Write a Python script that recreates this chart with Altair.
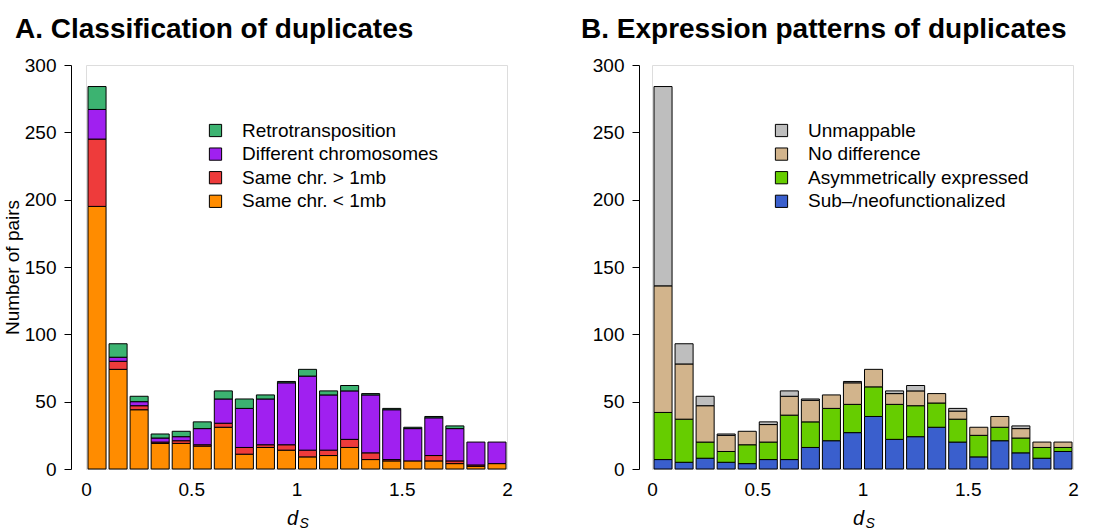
import altair as alt
import pandas as pd

# bins of d_S (width 0.1 from 0 to 2)
bin_lo = [round(i * 0.1, 1) for i in range(20)]
bin_hi = [round((i + 1) * 0.1, 1) for i in range(20)]

# Panel A: classification of duplicates (counts per bin)
cats_a = ["Retrotransposition", "Different chromosomes", "Same chr. > 1mb", "Same chr. < 1mb"]
colors_a = ["#3CB371", "#A020F0", "#EE3B3B", "#FF8C00"]
same_lt_1mb = [195, 74, 44, 19, 19, 17, 31, 11, 16, 14, 9, 10, 16, 7, 6, 6, 6, 4, 2, 4]
same_gt_1mb = [50, 6, 3, 1, 2, 1, 3, 5, 2, 4, 5, 4, 6, 5, 1, 0, 4, 2, 1, 0]
diff_chr = [22, 3, 3, 3, 3, 12, 18, 29, 34, 46, 55, 41, 36, 43, 37, 24, 28, 24, 17, 16]
retro = [17, 10, 4, 3, 4, 5, 6, 7, 3, 1, 5, 3, 4, 1, 1, 1, 1, 2, 0, 0]

# Panel B: expression patterns of duplicates
cats_b = ["Unmappable", "No difference", "Asymmetrically expressed", "Sub\u2013/neofunctionalized"]
colors_b = ["#BEBEBE", "#D2B48C", "#66CD00", "#3A5FCD"]
subneo = [7, 5, 8, 5, 4, 7, 7, 16, 21, 27, 39, 22, 24, 31, 20, 9, 21, 12, 8, 13]
asym = [35, 32, 12, 8, 14, 13, 33, 19, 24, 21, 22, 26, 23, 18, 17, 16, 10, 11, 8, 3]
nodiff = [94, 41, 27, 12, 10, 13, 14, 16, 10, 16, 13, 8, 11, 7, 6, 6, 8, 7, 4, 4]
unmap = [148, 15, 7, 1, 0, 2, 4, 1, 0, 1, 0, 2, 4, 0, 2, 0, 0, 2, 0, 0]

titles = ["A. Classification of duplicates", "B. Expression patterns of duplicates"]
y_ticks = [0, 50, 100, 150, 200, 250, 300]
x_ticks = [0, 0.5, 1, 1.5, 2]
x_title = ["d", "S"]

FONT = "Liberation Sans"
W, H = 421, 404


def long_df(series_bottom_to_top, cats_bottom_to_top):
    rows = []
    for rank, (vals, cat) in enumerate(zip(series_bottom_to_top, cats_bottom_to_top)):
        for lo, hi, v in zip(bin_lo, bin_hi, vals):
            if v > 0:
                rows.append({"lo": lo, "hi": hi, "count": v, "cat": cat, "rank": rank})
    return pd.DataFrame(rows)


def panel(df, domain, colors, title, ytitle, yoffset):
    bars = alt.Chart(df).mark_bar(
        stroke="black", strokeWidth=1, opacity=1, binSpacing=3
    ).encode(
        x=alt.X("lo:Q", bin="binned", scale=alt.Scale(domain=[0, 2], nice=False, zero=False),
                axis=alt.Axis(values=x_ticks, format="~g", title=None, domain=False,
                              ticks=False, grid=False, labelPadding=11, labelFlush=False,
                              labelFontSize=19, labelColor="black", labelFont=FONT)),
        x2="hi:Q",
        y=alt.Y("count:Q", stack="zero", scale=alt.Scale(domain=[0, 300], nice=False),
                axis=alt.Axis(values=y_ticks, format="d", title=ytitle, grid=False,
                              offset=yoffset, tickSize=7, labelPadding=8,
                              domainColor="black", tickColor="black",
                              labelFontSize=19, labelColor="black", labelFont=FONT,
                              titleFontSize=19, titleFont=FONT, titleFontWeight="normal",
                              titleColor="black", titlePadding=2)),
        color=alt.Color("cat:N", scale=alt.Scale(domain=domain, range=colors),
                        legend=alt.Legend(title=None, orient="none", legendX=120, legendY=56,
                                          symbolType="square", symbolSize=150,
                                          symbolStrokeColor="black", symbolStrokeWidth=1,
                                          symbolOpacity=1, labelFontSize=19, labelFont=FONT,
                                          labelColor="black", labelOffset=17, rowPadding=3.6,
                                          labelLimit=0)),
        order=alt.Order("rank:Q", sort="ascending"),
    )
    title_txt = alt.Chart(pd.DataFrame({"t": [title]})).mark_text(
        font=FONT, fontSize=28, fontWeight="bold", align="left", baseline="alphabetic"
    ).encode(x=alt.value(-71), y=alt.value(-27), text="t:N")
    d_txt = alt.Chart(pd.DataFrame({"t": [x_title[0]]})).mark_text(
        font=FONT, fontSize=20, fontStyle="italic", align="center", baseline="alphabetic"
    ).encode(x=alt.value(W / 2 - 4), y=alt.value(H + 56), text="t:N")
    s_txt = alt.Chart(pd.DataFrame({"t": [x_title[1]]})).mark_text(
        font=FONT, fontSize=14, fontStyle="italic", align="left", baseline="alphabetic"
    ).encode(x=alt.value(W / 2 + 3), y=alt.value(H + 59), text="t:N")
    return alt.layer(bars, title_txt, d_txt, s_txt).properties(width=W, height=H)


df_a = long_df([same_lt_1mb, same_gt_1mb, diff_chr, retro], cats_a[::-1])
df_b = long_df([subneo, asym, nodiff, unmap], cats_b[::-1])

left = panel(df_a, cats_a, colors_a, titles[0], "Number of pairs", 15)
right = panel(df_b, cats_b, colors_b, titles[1], None, 13)

chart = alt.hconcat(left, right, spacing=67).resolve_scale(color="independent").resolve_legend(
    color="independent"
).properties(
    padding={"left": 2, "top": 15, "right": 0, "bottom": 0}
).configure_view(stroke=None).configure(background="white")

chart.save("out.html", embed_options={"renderer": "svg", "actions": False})
